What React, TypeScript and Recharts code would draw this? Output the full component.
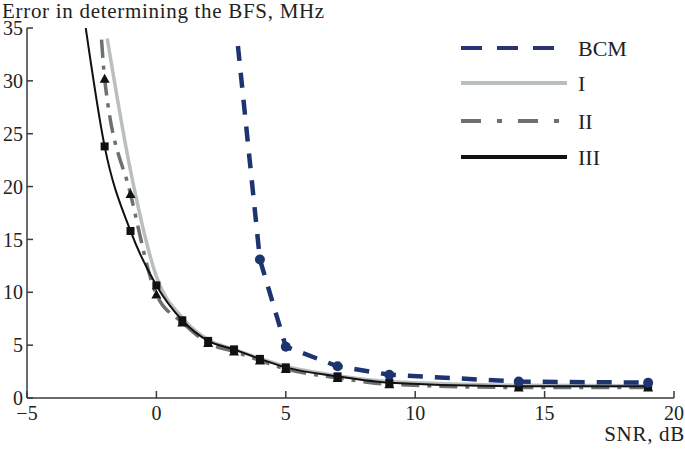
import { Line, LineChart, XAxis, YAxis } from "recharts";

// SNR, dB (x) and error in BFS, MHz (y) for each curve
const bcmSnr = [3.15, 4, 5, 7, 9, 14, 19];
const bcmError = [33.3, 13.1, 4.85, 3.0, 2.2, 1.55, 1.45];

const iSnr = [-1.9, -1, 0, 1, 2, 3, 4, 5, 7, 9, 14, 19];
const iError = [34.0, 21.5, 11.5, 7.6, 5.5, 4.6, 3.75, 3.0, 2.1, 1.55, 1.2, 1.15];

const iiSnr = [-2.12, -2, -1, 0, 1, 2, 3, 4, 5, 7, 9, 14, 19];
const iiError = [33.9, 30.2, 19.3, 9.8, 7.15, 5.2, 4.4, 3.55, 2.75, 1.9, 1.3, 1.0, 1.0];

const iiiSnr = [-2.73, -2, -1, 0, 1, 2, 3, 4, 5, 7, 9, 14, 19];
const iiiError = [35, 23.8, 15.8, 10.65, 7.35, 5.4, 4.6, 3.7, 2.9, 2.05, 1.45, 1.1, 1.1];

const xTicks = [-5, 0, 5, 10, 15, 20];
const yTicks = [0, 5, 10, 15, 20, 25, 30, 35];

const legendNames = ["BCM", "I", "II", "III"];

const FONT = '"Liberation Serif", "Times New Roman", serif';
const NAVY = "#1c3570";
const LIGHT = "#b9bec0";
const MID = "#6c7072";
const DARK = "#111111";

const toPoints = (xs: number[], ys: number[]) => xs.map((x, i) => ({ x, y: ys[i] }));

const bcmData = toPoints(bcmSnr, bcmError);
const iData = toPoints(iSnr, iError);
const iiData = toPoints(iiSnr, iiError);
const iiiData = toPoints(iiiSnr, iiiError);

// first point of BCM / II / III is only the line's start, no marker there
const CircleDot = (p: any) =>
  p.index === 0 ? <g key={p.key} /> : <circle key={p.key} cx={p.cx} cy={p.cy} r={5} fill={NAVY} />;

const SquareDot = (p: any) =>
  p.index === 0 ? (
    <g key={p.key} />
  ) : (
    <rect key={p.key} x={p.cx - 4} y={p.cy - 4} width={8} height={8} fill={DARK} />
  );

const TriangleDot = (p: any) =>
  p.index <= 0 ? (
    <g key={p.key} />
  ) : (
    <polygon
      key={p.key}
      points={`${p.cx},${p.cy - 5} ${p.cx + 5},${p.cy + 4} ${p.cx - 5},${p.cy + 4}`}
      fill={DARK}
    />
  );

const fmt = (v: number) => (v < 0 ? `\u2212${-v}` : `${v}`);

const tickStyle = { fontSize: 20, fill: "#222", fontFamily: FONT };

export default function App() {
  const legendStyles = [
    { stroke: "#2a3378", width: 4, dash: "21 15" },
    { stroke: LIGHT, width: 4, dash: undefined },
    { stroke: MID, width: 4, dash: "20 16 5 16" },
    { stroke: DARK, width: 4, dash: undefined },
  ];
  const rowY = [48, 83, 121, 157];

  return (
    <div
      style={{
        position: "absolute",
        left: 0,
        top: 0,
        width: 685,
        height: 452,
        background: "#fff",
        fontFamily: FONT,
      }}
    >
      <LineChart width={685} height={452} margin={{ top: 28, right: 11, left: 0, bottom: 0 }}>
        <XAxis
          type="number"
          dataKey="x"
          domain={[-5, 20]}
          ticks={xTicks}
          interval={0}
          allowDataOverflow
          tickFormatter={fmt}
          tick={tickStyle}
          tickSize={-7}
          tickMargin={15}
          height={54}
          axisLine={{ stroke: "#3a3a3a", strokeWidth: 1.5 }}
          tickLine={{ stroke: "#3a3a3a", strokeWidth: 1.5 }}
        />
        <YAxis
          type="number"
          domain={[0, 35]}
          ticks={yTicks}
          interval={0}
          allowDataOverflow
          tick={tickStyle}
          tickSize={-6}
          tickMargin={10}
          width={27}
          axisLine={{ stroke: "#3a3a3a", strokeWidth: 1.5 }}
          tickLine={{ stroke: "#3a3a3a", strokeWidth: 1.5 }}
        />
        <Line
          data={iData}
          dataKey="y"
          type="monotone"
          stroke={LIGHT}
          strokeWidth={3.5}
          dot={false}
          isAnimationActive={false}
        />
        <Line
          data={iiData}
          dataKey="y"
          type="monotone"
          stroke={MID}
          strokeWidth={3.5}
          strokeDasharray="18 8 4 8"
          dot={TriangleDot}
          isAnimationActive={false}
        />
        <Line
          data={iiiData}
          dataKey="y"
          type="monotone"
          stroke={DARK}
          strokeWidth={2}
          dot={SquareDot}
          isAnimationActive={false}
        />
        <Line
          data={bcmData}
          dataKey="y"
          type="linear"
          stroke={NAVY}
          strokeWidth={4.5}
          strokeDasharray="15 12"
          dot={CircleDot}
          isAnimationActive={false}
        />
      </LineChart>
      <svg
        width={685}
        height={452}
        style={{ position: "absolute", left: 0, top: 0, pointerEvents: "none" }}
      >
        <text x={2} y={17.5} fontSize={21} letterSpacing={0.7} fill="#222" fontFamily={FONT}>
          Error in determining the BFS, MHz
        </text>
        <text
          x={685}
          y={441}
          fontSize={21}
          letterSpacing={0.7}
          textAnchor="end"
          fill="#222"
          fontFamily={FONT}
        >
          SNR, dB
        </text>
        {legendNames.map((name, i) => (
          <g key={name}>
            <line
              x1={461}
              x2={567}
              y1={rowY[i]}
              y2={rowY[i]}
              stroke={legendStyles[i].stroke}
              strokeWidth={legendStyles[i].width}
              strokeDasharray={legendStyles[i].dash}
            />
            <text x={578} y={rowY[i] + 8} fontSize={22} fill="#222" fontFamily={FONT}>
              {name}
            </text>
          </g>
        ))}
      </svg>
    </div>
  );
}
